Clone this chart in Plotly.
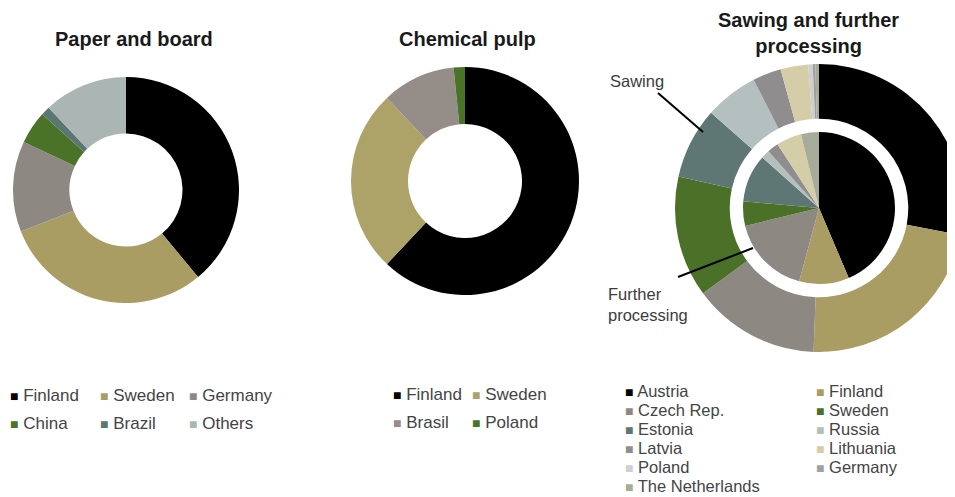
import plotly.graph_objects as go

W, H = 955, 497
OFF = 8  # page body margin of the browser

# ---------------- data ----------------
paper_labels = ["Finland", "Sweden", "Germany", "China", "Brazil", "Others"]
paper_values = [39, 30, 13, 4.7, 1.3, 12]
paper_colors = ["#000000", "#a99d64", "#8e8883", "#4a7328", "#5c7673", "#abb6b4"]

pulp_labels = ["Finland", "Sweden", "Brasil", "Poland"]
pulp_values = [62, 26, 10.4, 1.6]
pulp_colors = ["#000000", "#ada369", "#958d88", "#4a7328"]

saw_labels = ["Austria", "Finland", "Czech Rep.", "Sweden", "Estonia", "Russia",
              "Latvia", "Lithuania", "Poland", "Germany", "The Netherlands"]
sawing_values = [28, 22.6, 14.3, 13.6, 8, 6, 3.2, 3.1, 0.5, 0.3, 0.4]
further_values = [43.6, 10.6, 17, 5.2, 10.2, 1.8, 2.4, 5.4, 0, 0, 3.8]
saw_colors = ["#000000", "#a99d64", "#8e8883", "#4a7127", "#5e7774", "#b4c0bf",
              "#8f8d8e", "#d4cda8", "#cfcfcf", "#a0a0a0", "#a6ac99"]

titles = ["Paper and board", "Chemical pulp", "Sawing and further<br>processing"]
ring_labels = ["Sawing", "Further<br>processing"]

FONT = "Liberation Sans, Arial, sans-serif"


def dom(cx, cy, r):
    cx -= OFF
    cy -= OFF
    return dict(x=[max(0, (cx - r) / W), min(1, (cx + r) / W)],
                y=[max(0, 1 - (cy + r) / H), min(1, 1 - (cy - r) / H)])


def px(x, y):
    return (x - OFF) / W, 1 - (y - OFF) / H


fig = go.Figure()

common = dict(sort=False, direction="clockwise", rotation=0, textinfo="none",
              showlegend=False, hoverinfo="label+percent")

fig.add_trace(go.Pie(labels=paper_labels, values=paper_values, hole=0.5,
                     marker=dict(colors=paper_colors, line=dict(width=0)),
                     domain=dom(126, 190, 113), **common))
fig.add_trace(go.Pie(labels=pulp_labels, values=pulp_values, hole=0.5,
                     marker=dict(colors=pulp_colors, line=dict(width=0)),
                     domain=dom(465, 181, 114), **common))
# outer ring: sawing
fig.add_trace(go.Pie(labels=saw_labels, values=sawing_values, hole=0.62,
                     marker=dict(colors=saw_colors, line=dict(width=0)),
                     domain=dom(819, 208, 144), **common))
# inner pie: further processing
fig.add_trace(go.Pie(labels=saw_labels, values=further_values, hole=0,
                     marker=dict(colors=saw_colors, line=dict(width=0)),
                     domain=dom(819, 208, 76), **common))

# titles
for t, (x, y) in zip(titles, [(134, 39), (467, 39), (808, 33)]):
    ax, ay = px(x, y)
    fig.add_annotation(x=ax, y=ay, xref="paper", yref="paper", showarrow=False,
                       xanchor="center", yanchor="middle", text=f"<b>{t}</b>",
                       font=dict(family=FONT, size=20, color="#1a1a1a"))

# ring labels
for t, (x, y) in zip(ring_labels, [(608, 81), (606, 304)]):
    ax, ay = px(x, y)
    fig.add_annotation(x=ax, y=ay, xref="paper", yref="paper", showarrow=False,
                       xanchor="left", yanchor="middle", align="left", text=t,
                       font=dict(family=FONT, size=16.5, color="#3c3c3c"))

# leader lines
for (x0, y0), (x1, y1) in [((658, 93), (703, 132)), ((678, 277), (753, 248))]:
    a0, b0 = px(x0, y0)
    a1, b1 = px(x1, y1)
    fig.add_shape(type="line", xref="paper", yref="paper", x0=a0, y0=b0, x1=a1, y1=b1,
                  line=dict(color="#000000", width=2))


# legends built as text
def legend(labels, colors, x0, y0, col_w, row_h, ncols, size):
    for i, (lab, c) in enumerate(zip(labels, colors)):
        r, k = divmod(i, ncols)
        ax, ay = px(x0 + k * col_w, y0 + r * row_h)
        fig.add_annotation(x=ax, y=ay, xref="paper", yref="paper", showarrow=False,
                           xanchor="left", yanchor="middle", borderpad=0,
                           text=f"<span style='color:{c};font-size:14px'>■</span> {lab}",
                           font=dict(family=FONT, size=size, color="#444444"))


legend(paper_labels, paper_colors, 9, 395, 89.5, 28, 3, 17)
legend(pulp_labels, pulp_colors, 392, 394, 79, 28, 2, 17)
legend(saw_labels, saw_colors, 624, 391, 191, 19.0, 2, 16.5)

fig.update_layout(width=W, height=H, margin=dict(l=0, r=0, t=0, b=0),
                  paper_bgcolor="white", plot_bgcolor="white",
                  font=dict(family=FONT))

fig.write_html("out.html")
